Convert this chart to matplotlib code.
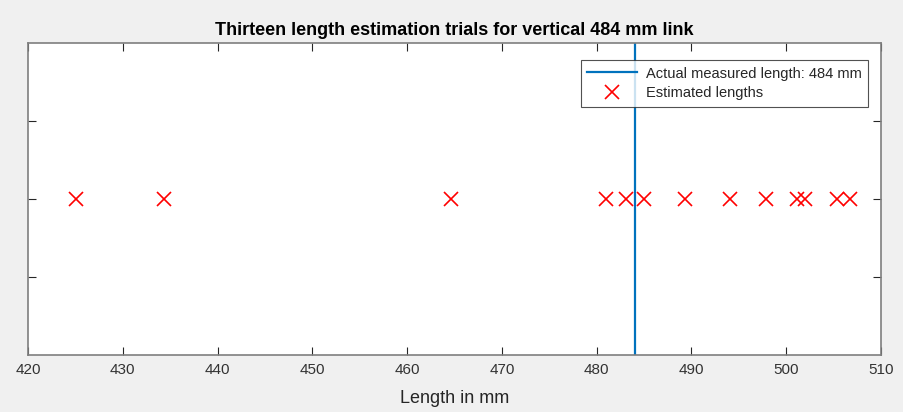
import matplotlib
matplotlib.use("Agg")
import matplotlib.pyplot as plt

actual_length = 484
estimates = [425.1, 434.3, 464.6, 481.0, 483.1, 485.0, 489.3, 494.1, 497.9, 501.1, 502.0, 505.4, 506.7]
y_level = [1] * len(estimates)
xticks = [420, 430, 440, 450, 460, 470, 480, 490, 500, 510]
yticks = [0.5, 1.0, 1.5]

plt.rcParams['font.family'] = ['Liberation Sans', 'DejaVu Sans']

fig = plt.figure(figsize=(9.04, 4.12), dpi=100, facecolor='#f0f0f0')
ax = fig.add_axes([28/904, 1-355/412, (881-28)/904, (355-43)/412])
ax.set_facecolor('white')

ax.axvline(actual_length, color='#0072BD', lw=1.6, label='Actual measured length: 484 mm', zorder=2)
ax.plot(estimates, y_level, 'x', color='#FF0000', ms=10, mew=1.2, ls='none', label='Estimated lengths', zorder=3)

ax.set_xlim(420, 510)
ax.set_ylim(0, 2)
ax.set_xticks(xticks)
ax.set_yticks(yticks)
ax.set_yticklabels([])
ax.tick_params(direction='in', top=True, right=True, length=6, width=0.8, colors='#262626',
               labelsize=11, labelcolor='#333333', pad=6)
for s in ax.spines.values():
    s.set_color('#7f7f7f')
    s.set_linewidth(1.2)

ax.set_title('Thirteen length estimation trials for vertical 484 mm link', fontsize=13,
             fontweight='bold', color='black', pad=6)
ax.set_xlabel('Length in mm', fontsize=13, color='#262626', labelpad=9)

leg = ax.legend(loc='upper right', bbox_to_anchor=(0.985, 0.9455), fontsize=10.5, frameon=True,
                fancybox=False, edgecolor='#262626', handlelength=3.4, borderpad=0.45,
                labelspacing=0.4, handletextpad=0.6, borderaxespad=0)
leg.get_frame().set_linewidth(0.8)
for t in leg.get_texts():
    t.set_color('#262626')

fig.savefig('out.png', dpi=100, facecolor=fig.get_facecolor())
